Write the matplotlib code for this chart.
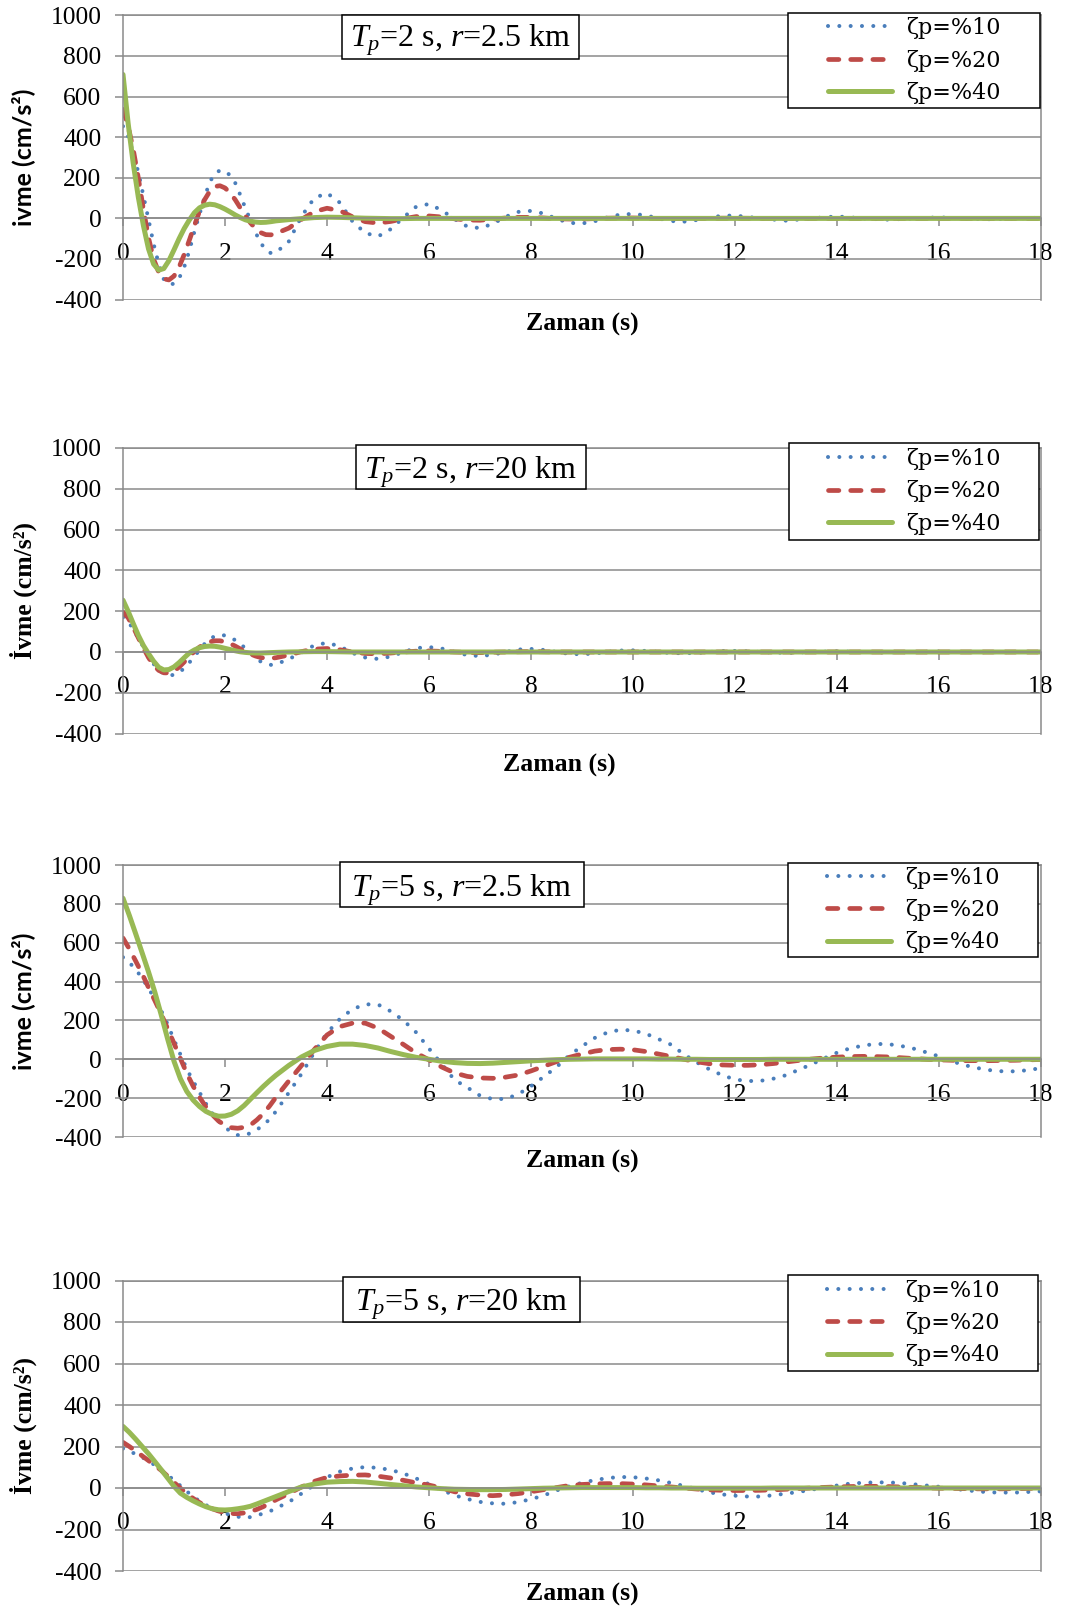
import numpy as np
import matplotlib
matplotlib.use("Agg")
import matplotlib.pyplot as plt
from matplotlib.patches import Rectangle

# fonts: Times-like for most text, italic T and r in the panel titles
plt.rcParams['font.family'] = ['Liberation Serif', 'DejaVu Serif']
plt.rcParams['mathtext.fontset'] = 'custom'
plt.rcParams['mathtext.rm'] = 'Liberation Serif'
plt.rcParams['mathtext.it'] = 'Liberation Serif:italic'
plt.rcParams['mathtext.bf'] = 'Liberation Serif:bold'
plt.rcParams['axes.unicode_minus'] = False

# sample times (s): finer at the start where the records change fast
t_tp2 = np.round(np.concatenate([np.arange(0, 3.01, 0.1),
                                 np.arange(3.25, 12.01, 0.25),
                                 np.arange(12.5, 18.01, 0.5)]), 3)
t_tp5 = np.round(np.concatenate([np.arange(0, 3.01, 0.125),
                                 np.arange(3.25, 18.01, 0.25)]), 3)

# Tp=2 s, r=2.5 km
p1_z10 = [454, 405, 320, 228, 112, -5, -125, -225, -300, -325,
          -322, -295, -240, -160, -65, 20, 105, 178, 222, 236,
          234, 212, 175, 115, 50, -10, -70, -120, -157, -171,
          -168,
          -114, 10, 100, 125, 78, -15, -72, -89, -53, 5, 58, 71,
          40, -3, -40, -48, -27, 8, 32, 37, 24, -2, -22, -25,
          -14, 5, 19, 22, 15, 0, -13, -16, -8, 4, 13, 14,
          0, -11, 0, 10, 0, -6, 0, 5, 0, -4, 0, 3]
p1_z20 = [537, 455, 340, 200, 45, -95, -200, -265, -298, -303,
          -284, -240, -178, -108, -35, 35, 92, 133, 157, 161,
          150, 126, 92, 52, 12, -22, -50, -70, -80, -81,
          -74,
          -48, -5, 33, 50, 38, 8, -16, -23, -15, -2, 9, 12,
          7, -2, -8, -9, -4, 2, 5, 5, 2, -2, -3, -3,
          -1, 1, 2, 2, 1, 0, -1, -1, 0, 0, 1, 1,
          0, 0, 0, 0, 0, 0, 0, 0, 0, 0, 0, 0]
p1_z40 = [709, 470, 272, 105, -35, -150, -225, -255, -247, -208,
          -155, -100, -50, -8, 28, 52, 65, 70, 67, 58,
          46, 32, 17, 4, -7, -14, -18, -20, -19, -16,
          -12,
          -6, -1, 4, 6, 5, 3, 1, 0, -1, -1, 0, 0,
          0, 0, 0, 0, 0, 0, 0, 0, 0, 0, 0, 0,
          0, 0, 0, 0, 0, 0, 0, 0, 0, 0, 0, 0,
          0, 0, 0, 0, 0, 0, 0, 0, 0, 0, 0, 0]

# Tp=2 s, r=20 km
p2_z10 = [170, 150, 112, 68, 25, -18, -58, -88, -107, -115,
          -112, -100, -80, -52, -22, 10, 40, 63, 78, 84,
          81, 73, 58, 40, 18, -5, -28, -47, -59, -63,
          -60,
          -35, -3, 33, 45, 28, -5, -27, -34, -22, 0, 19, 24,
          17, 0, -15, -20, -13, 0, 12, 15, 10, 0, -9, -11,
          -7, 0, 7, 8, 5, 0, -5, -6, -4, 0, 4, 5,
          0, -4, 0, 3, 0, -2, 0, 2, 0, -1, 0, 1]
p2_z20 = [195, 168, 122, 70, 20, -27, -65, -90, -102, -103,
          -93, -74, -49, -22, 3, 24, 40, 50, 55, 55,
          50, 41, 29, 15, 2, -10, -20, -27, -31, -31,
          -28,
          -15, 2, 14, 17, 11, 0, -7, -9, -5, 0, 4, 5,
          3, 0, -2, -3, -1, 0, 1, 2, 1, 0, 0, 0,
          0, 0, 0, 0, 0, 0, 0, 0, 0, 0, 0, 0,
          0, 0, 0, 0, 0, 0, 0, 0, 0, 0, 0, 0]
p2_z40 = [254, 200, 140, 82, 32, -8, -45, -75, -88, -86,
          -73, -52, -28, -5, 10, 21, 27, 29, 28, 24,
          18, 12, 6, 1, -2, -4, -5, -5, -4, -3,
          -2,
          0, 1, 2, 2, 1, 0, 0, 0, 0, 0, 0, 0,
          0, 0, 0, 0, 0, 0, 0, 0, 0, 0, 0, 0,
          0, 0, 0, 0, 0, 0, 0, 0, 0, 0, 0, 0,
          0, 0, 0, 0, 0, 0, 0, 0, 0, 0, 0, 0]

# Tp=5 s, r=2.5 km
p3_z10 = [525, 498, 462, 418, 365, 310, 250, 180, 100, 25, -50, -112, -170,
          -228, -278, -318, -350, -375, -390, -392, -380, -362, -340, -308, -268,
          -172, -75, 35,
          135, 207, 258, 283, 282, 247, 200, 138,
          55, -25, -106, -145, -187, -205, -204, -180, -138, -90, -40, 20,
          67, 110, 138, 152, 148, 132, 104, 75, 25, -16, -52, -82,
          -104, -112, -111, -100, -82, -54, -26, 5, 34, 56, 70, 79,
          78, 69, 55, 36, 15, -10, -30, -45, -56, -62, -62, -56, -45]
p3_z20 = [624, 568, 505, 440, 370, 302, 232, 158, 82, 5, -72, -138, -195,
          -245, -285, -318, -340, -352, -355, -350, -338, -312, -280, -240, -195,
          -112, -32, 50,
          125, 168, 186, 186, 160, 118, 76, 32,
          -3, -40, -70, -88, -96, -98, -92, -81, -60, -36, -12, 10,
          27, 42, 50, 52, 49, 40, 27, 14, 0, -13, -23, -29,
          -31, -31, -28, -22, -14, -6, 1, 7, 11, 14, 15, 14,
          12, 8, 4, 0, -3, -5, -7, -7, -7, -6, -5, -3, -1]
p3_z40 = [829, 740, 645, 548, 450, 345, 228, 105, -10, -100, -165, -210, -243,
          -268, -284, -293, -292, -283, -265, -238, -205, -172, -140, -110, -82,
          -32, 12, 45,
          66, 78, 78, 71, 58, 40, 24, 10,
          0, -10, -17, -21, -22, -20, -16, -12, -8, -5, -2, 0,
          1, 2, 2, 2, 2, 2, 1, 1, 0, 0, -1, -1,
          -1, -1, -1, 0, 0, 0, 0, 0, 0, 0, 0, 0,
          0, 0, 0, 0, 0, 0, 0, 0, 0, 0, 0, 0, 0]

# Tp=5 s, r=20 km
p4_z10 = [190, 178, 163, 148, 130, 110, 88, 63, 37, 11, -16, -42, -63,
          -82, -98, -111, -122, -131, -138, -145, -140, -132, -123, -113, -97,
          -68, -27, 15,
          52, 79, 94, 101, 97, 87, 70, 46,
          18, -10, -35, -53, -67, -74, -76, -68, -54, -36, -12, 8,
          25, 38, 48, 53, 52, 46, 37, 24, 10, -6, -21, -31,
          -37, -41, -41, -35, -27, -19, -8, 2, 12, 21, 25, 27,
          27, 24, 18, 12, 6, -2, -10, -16, -21, -22, -22, -19, -16]
p4_z20 = [220, 200, 178, 155, 132, 109, 85, 57, 27, -1, -28, -50, -70,
          -87, -100, -111, -119, -123, -124, -120, -113, -103, -90, -74, -57,
          -27, 5, 32,
          51, 58, 62, 63, 57, 48, 37, 25,
          14, 0, -18, -28, -34, -37, -33, -27, -18, -8, 2, 12,
          17, 20, 21, 21, 19, 15, 10, 5, 0, -5, -9, -11,
          -12, -12, -11, -9, -6, -3, 0, 3, 5, 7, 8, 8,
          7, 5, 3, 1, -1, -2, -3, -4, -4, -4, -3, -2, -1]
p4_z40 = [297, 268, 235, 200, 165, 127, 88, 48, 8, -25, -45, -62, -77,
          -90, -100, -105, -106, -104, -100, -95, -88, -77, -65, -53, -41,
          -17, 5, 19,
          28, 31, 32, 29, 23, 17, 11, 5,
          1, -3, -6, -7, -8, -8, -7, -5, -3, -1, 0, 1,
          2, 2, 2, 2, 2, 1, 1, 0, 0, -1, -1, -1,
          -1, -1, -1, 0, 0, 0, 0, 0, 0, 0, 0, 0,
          0, 0, 0, 0, 0, 0, 0, 0, 0, 0, 0, 0, 0]

x_ticks = [0, 2, 4, 6, 8, 10, 12, 14, 16, 18]
y_ticks = [-400, -200, 0, 200, 400, 600, 800, 1000]
series_labels = ['ζp=%10', 'ζp=%20', 'ζp=%40']
titles = [r'$T_p$=2 s, $r$=2.5 km', r'$T_p$=2 s, $r$=20 km',
          r'$T_p$=5 s, $r$=2.5 km', r'$T_p$=5 s, $r$=20 km']
ylabels = ['ivme (cm/s²)', 'İvme (cm/s²)', 'ivme (cm/s²)', 'İvme (cm/s²)']
xlabel = 'Zaman (s)'

panels = [
    (t_tp2, [p1_z10, p1_z20, p1_z40]),
    (t_tp2, [p2_z10, p2_z20, p2_z40]),
    (t_tp5, [p3_z10, p3_z20, p3_z40]),
    (t_tp5, [p4_z10, p4_z20, p4_z40]),
]

W, H = 1066, 1609
# plot areas in pixels: top, bottom
areas = [(15.4, 299.6), (448, 733.6), (865, 1137), (1280.5, 1571)]
x_left, x_right = 123, 1041
# title boxes in pixels: x0, x1, top, bottom, text baseline
title_boxes = [(342, 579, 15, 58.5, 47), (356, 586, 445, 489, 478),
               (340, 584, 862, 906.5, 896), (343, 580, 1276.5, 1322, 1311)]
# legend boxes in pixels: x0, x1, top, bottom
leg_boxes = [(788, 1040, 13.3, 107.7), (789, 1039, 443, 540),
             (788, 1038, 863, 957), (788, 1038, 1275, 1371)]
xlabel_pos = [(0.5, -0.086), (0.475, -0.111), (0.5, -0.089), (0.5, -0.081)]
ylabel_serif = [False, True, False, True]

colors = ['#4a7ebb', '#be4b48', '#98b954']
grid_c = '#8a8a8a'

fig = plt.figure(figsize=(W / 100, H / 100), dpi=100)

for i, (t, ys) in enumerate(panels):
    top, bot = areas[i]
    ax = fig.add_axes([x_left / W, 1 - bot / H, (x_right - x_left) / W, (bot - top) / H])

    z10, z20, z40 = ys
    ax.plot(t, z10, color=colors[0], lw=2.9, linestyle=(0, (0.01, 2.8)),
            dash_capstyle='round', label=series_labels[0], zorder=2)
    ax.plot(t, z20, color=colors[1], lw=3.4, linestyle=(0, (2.2, 2.5)),
            dash_capstyle='round', label=series_labels[1], zorder=2.1)
    ax.plot(t, z40, color=colors[2], lw=3.6, solid_capstyle='round',
            label=series_labels[2], zorder=2.2)

    ax.set_xlim(0, 18)
    ax.set_ylim(-400, 1000)
    ax.set_xticks(x_ticks)
    ax.set_yticks(y_ticks)
    ax.grid(axis='y', color=grid_c, lw=1.1)
    ax.set_axisbelow(True)

    # excel style: category axis crosses at zero
    ax.spines['bottom'].set_position(('data', 0))
    for s in ax.spines.values():
        s.set_color(grid_c)
        s.set_linewidth(1.1)
    ax.tick_params(axis='y', direction='out', length=5.5, width=1.1, color=grid_c,
                   pad=10, labelsize=18.4)
    ax.tick_params(axis='x', direction='out', length=5.5, width=1.1, color=grid_c,
                   pad=12, labelsize=18.4)

    # axis titles
    if ylabel_serif[i]:
        ax.set_ylabel(ylabels[i], fontsize=18.5, fontweight='bold',
                      family=['Liberation Serif', 'DejaVu Serif'])
    else:
        ax.set_ylabel(ylabels[i], fontsize=18, fontweight='bold',
                      family=['Lato', 'DejaVu Sans'])
    ax.yaxis.label.set_va('center')
    ax.yaxis.set_label_coords(-0.109, 0.5)
    ax.set_xlabel(xlabel, fontsize=18.5, fontweight='bold')
    ax.xaxis.label.set_va('center')
    ax.xaxis.set_label_coords(*xlabel_pos[i])

    # panel title in a box
    bx0, bx1, btop, bbot, bbase = title_boxes[i]
    ax.add_patch(Rectangle((bx0 / W, 1 - bbot / H), (bx1 - bx0) / W, (bbot - btop) / H,
                           transform=fig.transFigure, fc='white', ec='black', lw=1.1,
                           clip_on=False, zorder=6))
    ax.text((bx0 + bx1) / 2 / W, 1 - bbase / H, titles[i], transform=fig.transFigure,
            ha='center', va='baseline', fontsize=23, zorder=7)

    # legend with its own frame
    lx0, lx1, ltop, lbot = leg_boxes[i]
    ax.add_patch(Rectangle((lx0 / W, 1 - lbot / H), (lx1 - lx0) / W, (lbot - ltop) / H,
                           transform=fig.transFigure, fc='white', ec='black', lw=1.1,
                           clip_on=False, zorder=4))
    ax.legend(loc='center', bbox_to_anchor=((lx0 + lx1) / 2 / W, 1 - (ltop + lbot) / 2 / H),
              bbox_transform=fig.transFigure, frameon=False,
              prop={'family': 'DejaVu Serif', 'size': 16},
              handlelength=2.9, handletextpad=0.6, labelspacing=0.47,
              borderpad=0.2, borderaxespad=0)

fig.savefig('out.png', dpi=100)
